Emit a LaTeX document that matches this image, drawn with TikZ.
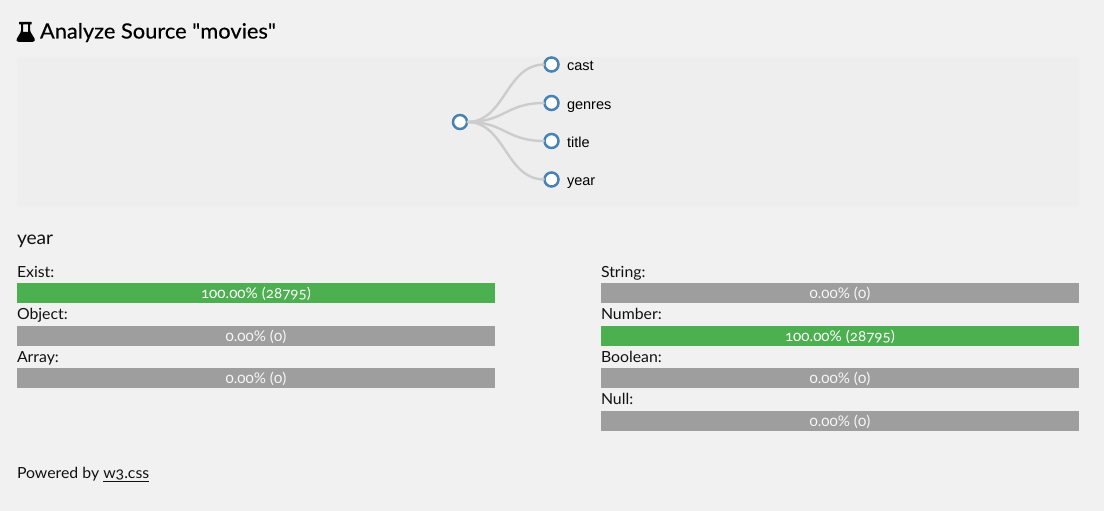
\documentclass[tikz,border=0pt]{standalone}
\usepackage{fontspec}
\setmainfont{Lato}[Numbers=OldStyle,Ligatures=NoCommon,FakeStretch=1.035]
\newfontfamily\treefont{Liberation Sans}
\newfontfamily\headfont{Lato}[Numbers=OldStyle,FakeStretch=1.04,FakeBold=0.35]
\definecolor{pagebg}{HTML}{F1F1F1}
\definecolor{panelbg}{HTML}{EEEEEE}
\definecolor{barOn}{HTML}{4CAF50}
\definecolor{barOff}{HTML}{9E9E9E}
\definecolor{ringblue}{HTML}{4682B4}
\definecolor{linkgray}{HTML}{CCCCCC}
\definecolor{inktext}{HTML}{111111}
\tikzset{
  txt/.style={anchor=base west,inner sep=0pt,outer sep=0pt,text=inktext,font=\fontsize{15.3}{18}\selectfont},
  heading/.style={txt,text=black,font=\headfont\fontsize{21}{24}\selectfont},
  subheading/.style={txt,font=\fontsize{18.5}{22}\selectfont},
  barbox/.style={anchor=north west,minimum width=478pt,minimum height=20pt,inner sep=0pt,outer sep=0pt,text=white,text depth=-1.4pt,font=\fontsize{14.7}{18}\selectfont},
  baron/.style={barbox,fill=barOn},
  baroff/.style={barbox,fill=barOff,text=white!92!barOff},
  dot/.style={circle,draw=ringblue,line width=2.5pt,fill=white,minimum size=14pt,inner sep=0pt,outer sep=0pt},
  treelabel/.style={anchor=base west,inner sep=0pt,outer sep=0pt,text=black,font=\treefont\fontsize{14.5}{16}\selectfont},
  treelink/.style={draw=linkgray,line width=2.4pt},
}
\begin{document}
\begin{tikzpicture}[x=1pt,y=-1pt]
\path[use as bounding box,fill=pagebg] (0,0) rectangle (1104,511);
% flask icon
\fill[black,even odd rule] (19,22) -- (31.5,22) -- (31.5,24.4) -- (30.2,24.4) -- (30.2,30.5)
  .. controls (30.2,31.5) and (30.6,32) .. (31,32.7) -- (34.6,38.6)
  .. controls (35.6,40.4) and (34.6,41.8) .. (32.8,41.8) -- (18.4,41.8)
  .. controls (16.6,41.8) and (15.9,40.4) .. (16.9,38.6) -- (20.4,32.7)
  .. controls (20.8,32) and (21,31.5) .. (21,30.5) -- (21,24.4) -- (19,24.4) -- cycle
  (23.2,24.4) -- (28,24.4) -- (28,30.5) .. controls (28,31) and (28.1,31.4) .. (28.3,31.8) -- (22.9,31.8)
  .. controls (23.1,31.4) and (23.2,31) .. (23.2,30.5) -- cycle;
\node[heading] (title) at (40,38.5) {Analyze Source \symbol{34}movies\symbol{34}};
% panel
\fill[panelbg,rounded corners=4pt] (17,57) rectangle (1079,207);
% tree
\node[dot] (root) at (460,122) {};
\node[dot] (cast) at (551.5,64.5) {};
\node[dot] (genres) at (551.5,103) {};
\node[dot] (titlef) at (551.5,141) {};
\node[dot] (year) at (551.5,179.5) {};
\draw[treelink] (root) .. controls (505.5,122) and (505.5,64.5) .. (cast);
\draw[treelink] (root) .. controls (505.5,122) and (505.5,103) .. (genres);
\draw[treelink] (root) .. controls (505.5,122) and (505.5,141) .. (titlef);
\draw[treelink] (root) .. controls (505.5,122) and (505.5,179.5) .. (year);
\node[treelabel] (lcast) at (567,70.5) {cast};
\node[treelabel] (lgenres) at (567,109.5) {genres};
\node[treelabel] (ltitle) at (567,147) {title};
\node[treelabel] (lyear) at (567,185) {year};
% details
\node[subheading] (field) at (17,244) {year};
\node[txt] (lexist) at (17,277) {Exist:};
\node[baron] (bexist) at (17,283) {100.00\% (28795)};
\node[txt] (lobject) at (17,319) {Object:};
\node[baroff] (bobject) at (17,326) {0.00\% (0)};
\node[txt] (larray) at (17,362) {Array:};
\node[baroff] (barray) at (17,368) {0.00\% (0)};
\node[txt] (lstring) at (601,277) {String:};
\node[baroff] (bstring) at (601,283) {0.00\% (0)};
\node[txt] (lnumber) at (601,319) {Number:};
\node[baron] (bnumber) at (601,326) {100.00\% (28795)};
\node[txt] (lboolean) at (601,362) {Boolean:};
\node[baroff] (bboolean) at (601,368) {0.00\% (0)};
\node[txt] (lnull) at (601,404) {Null:};
\node[baroff] (bnull) at (601,411) {0.00\% (0)};
\node[txt] (powered) at (17,478) {Powered by \underline{w3.css}};
\end{tikzpicture}
\end{document}
